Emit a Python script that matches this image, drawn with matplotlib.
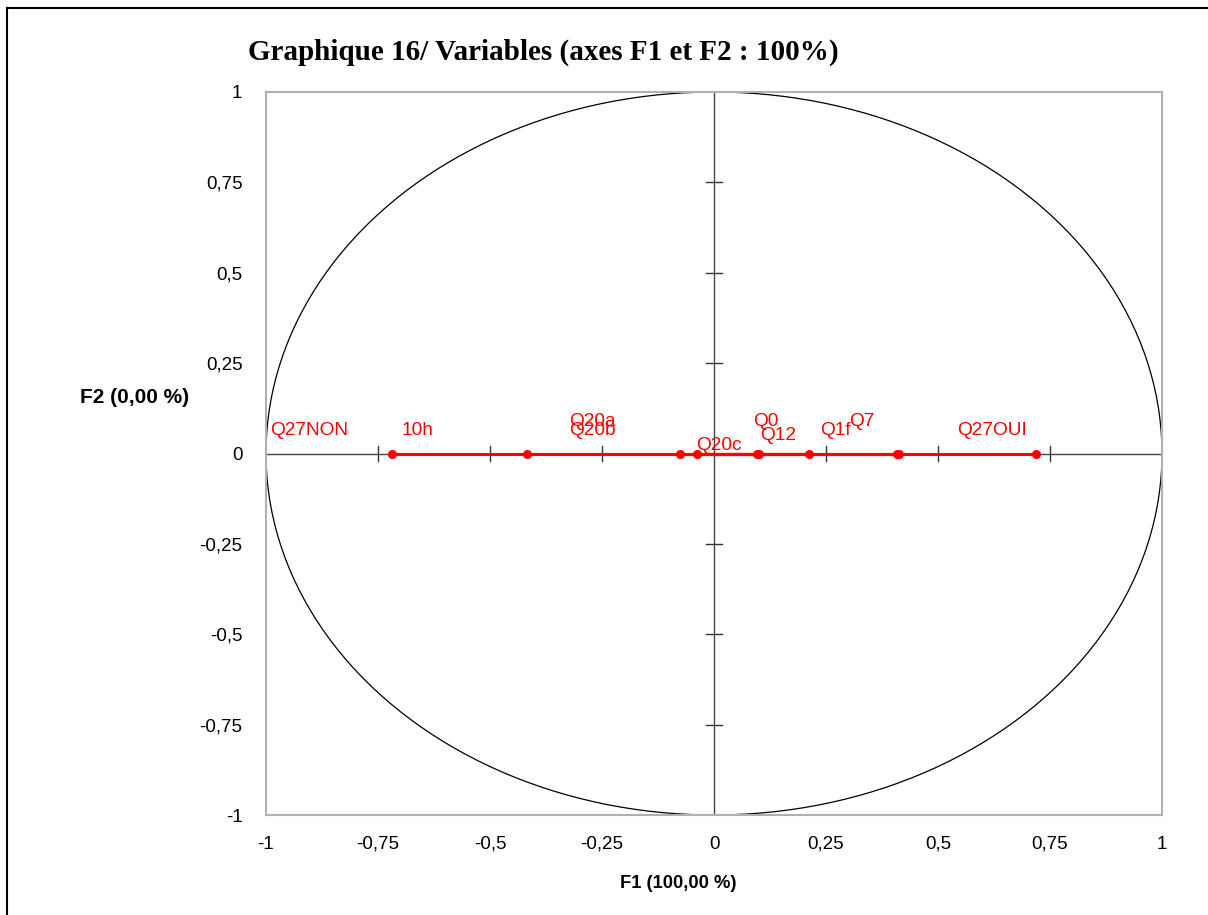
import numpy as np
import matplotlib.pyplot as plt

# coordonnées des variables sur F1 / F2
variables = ["Q27NON", "10h", "Q20a", "Q20b", "Q20c", "Q0", "Q12", "Q1f", "Q7", "Q27OUI"]
f1 = [-0.719, -0.417, -0.076, -0.037, 0.095, 0.101, 0.213, 0.408, 0.414, 0.718]
f2 = [0, 0, 0, 0, 0, 0, 0, 0, 0, 0]

# position des étiquettes
lab_x = [-0.991, -0.697, -0.323, -0.323, -0.039, 0.088, 0.104, 0.238, 0.302, 0.542]
lab_y = [0.065, 0.065, 0.088, 0.065, 0.0235, 0.0885, 0.05, 0.065, 0.0885, 0.065]

ticks = [-1, -0.75, -0.5, -0.25, 0, 0.25, 0.5, 0.75, 1]
tick_labels = ["-1", "-0,75", "-0,5", "-0,25", "0", "0,25", "0,5", "0,75", "1"]

W, H = 1208, 915
fig = plt.figure(figsize=(W / 100, H / 100), dpi=100)
ax = fig.add_axes([266 / W, 1 - 815 / H, 896 / W, 723 / H])

# cadre extérieur
fig.add_artist(plt.Line2D([7 / W, 1], [1 - 8 / H, 1 - 8 / H], color="black", lw=1.5, transform=fig.transFigure))
fig.add_artist(plt.Line2D([7 / W, 7 / W], [0, 1 - 8 / H], color="black", lw=1.5, transform=fig.transFigure))

# cercle des corrélations
t = np.linspace(0, 2 * np.pi, 400)
ax.plot(np.cos(t), np.sin(t), color="black", lw=0.9, zorder=2)

# axes centraux avec graduations
ax.axhline(0, color="#444444", lw=1, zorder=1)
ax.axvline(0, color="#444444", lw=1, zorder=1)
for v in ticks[1:-1]:
    if v == 0:
        continue
    ax.plot([v, v], [-0.022, 0.022], color="#333333", lw=1, zorder=1)
    ax.plot([-0.018, 0.018], [v, v], color="#333333", lw=1, zorder=1)

# vecteurs des variables
for x, y in zip(f1, f2):
    ax.plot([0, x], [0, y], color="red", lw=2.2, zorder=3)
ax.plot(f1, f2, "o", color="red", ms=5.5, zorder=4)
for name, x, y in zip(variables, lab_x, lab_y):
    ax.text(x, y, name, color="red", fontsize=13.7, family="Liberation Sans", ha="left", va="center", zorder=5)

ax.set_xlim(-1, 1)
ax.set_ylim(-1, 1)
ax.set_xticks(ticks)
ax.set_xticklabels(tick_labels)
ax.set_yticks(ticks)
ax.set_yticklabels(tick_labels)
ax.tick_params(length=0, labelsize=13.5)
ax.tick_params(axis="x", pad=15)
ax.tick_params(axis="y", pad=17)
for lab in ax.get_xticklabels() + ax.get_yticklabels():
    lab.set_family("Liberation Sans")
for s in ax.spines.values():
    s.set_color("#b0b0b0")
    s.set_linewidth(1.5)

fig.text(678 / W, 1 - 883 / H, "F1 (100,00 %)", ha="center", va="center", fontsize=13.2, fontweight="bold", family="Liberation Sans")
fig.text(80 / W, 1 - 397 / H, "F2 (0,00 %)", ha="left", va="center", fontsize=15, fontweight="bold", family="Liberation Sans")
fig.text(248 / W, 1 - 52 / H, "Graphique 16/ Variables (axes F1 et F2 : 100%)", ha="left", va="center",
         fontsize=21, fontweight="bold", family="Liberation Serif")

fig.savefig("out.png", dpi=100)
